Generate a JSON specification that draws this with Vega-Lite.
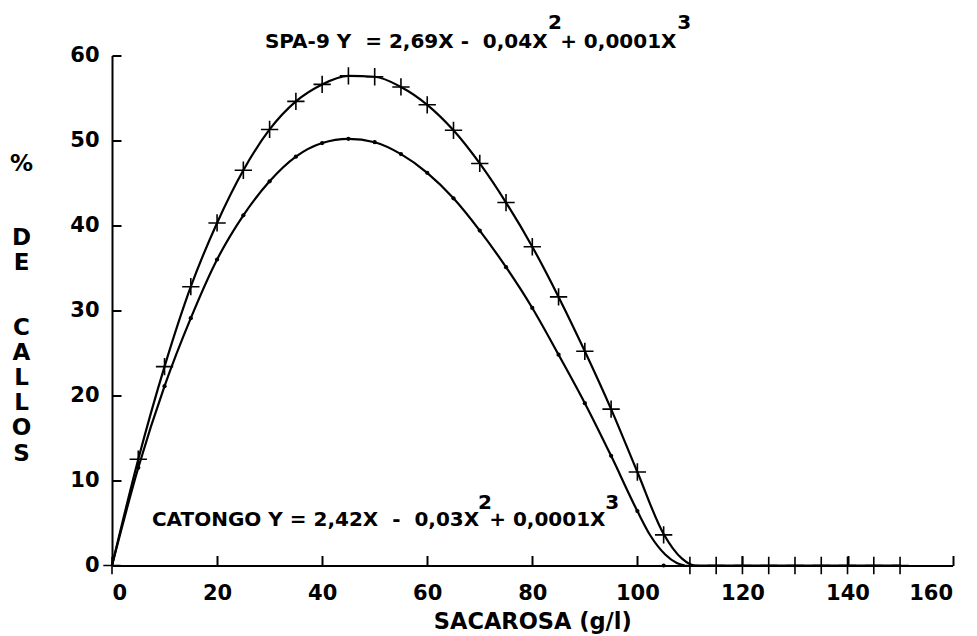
{
  "$schema": "https://vega.github.io/schema/vega-lite/v6.json",
  "width": 840.6,
  "height": 510,
  "autosize": "none",
  "padding": {"left": 112, "top": 55.5, "right": 24.4, "bottom": 70.5},
  "background": "white",
  "config": {
    "view": {"stroke": null},
    "font": "DejaVu Sans",
    "axis": {
      "domainColor": "black",
      "domainWidth": 2,
      "tickColor": "black",
      "tickWidth": 2,
      "labelColor": "black",
      "labelFont": "DejaVu Sans",
      "labelFontSize": 21,
      "labelFontWeight": "bold",
      "titleColor": "black",
      "titleFont": "DejaVu Sans",
      "titleFontWeight": "bold",
      "grid": false
    }
  },
  "resolve": {"axis": {"x": "independent", "y": "independent"}},
  "datasets": {
    "obs": [
      {"series": "SPA-9", "x": 0, "y": 0},
      {"series": "SPA-9", "x": 5, "y": 12.5},
      {"series": "SPA-9", "x": 10, "y": 23.4},
      {"series": "SPA-9", "x": 15, "y": 32.8},
      {"series": "SPA-9", "x": 20, "y": 40.3},
      {"series": "SPA-9", "x": 25, "y": 46.5},
      {"series": "SPA-9", "x": 30, "y": 51.3},
      {"series": "SPA-9", "x": 35, "y": 54.6},
      {"series": "SPA-9", "x": 40, "y": 56.6},
      {"series": "SPA-9", "x": 45, "y": 57.6},
      {"series": "SPA-9", "x": 50, "y": 57.5},
      {"series": "SPA-9", "x": 55, "y": 56.3},
      {"series": "SPA-9", "x": 60, "y": 54.2},
      {"series": "SPA-9", "x": 65, "y": 51.2},
      {"series": "SPA-9", "x": 70, "y": 47.3},
      {"series": "SPA-9", "x": 75, "y": 42.7},
      {"series": "SPA-9", "x": 80, "y": 37.5},
      {"series": "SPA-9", "x": 85, "y": 31.6},
      {"series": "SPA-9", "x": 90, "y": 25.2},
      {"series": "SPA-9", "x": 95, "y": 18.4},
      {"series": "SPA-9", "x": 100, "y": 11.0},
      {"series": "SPA-9", "x": 105, "y": 3.6},
      {"series": "SPA-9", "x": 110, "y": 0},
      {"series": "SPA-9", "x": 115, "y": 0},
      {"series": "SPA-9", "x": 120, "y": 0},
      {"series": "SPA-9", "x": 125, "y": 0},
      {"series": "SPA-9", "x": 130, "y": 0},
      {"series": "SPA-9", "x": 135, "y": 0},
      {"series": "SPA-9", "x": 140, "y": 0},
      {"series": "SPA-9", "x": 145, "y": 0},
      {"series": "SPA-9", "x": 150, "y": 0},
      {"series": "CATONGO", "x": 5, "y": 11.5},
      {"series": "CATONGO", "x": 10, "y": 21.1},
      {"series": "CATONGO", "x": 15, "y": 29.1},
      {"series": "CATONGO", "x": 20, "y": 36.0},
      {"series": "CATONGO", "x": 25, "y": 41.2},
      {"series": "CATONGO", "x": 30, "y": 45.2},
      {"series": "CATONGO", "x": 35, "y": 48.1},
      {"series": "CATONGO", "x": 40, "y": 49.7},
      {"series": "CATONGO", "x": 45, "y": 50.2},
      {"series": "CATONGO", "x": 50, "y": 49.8},
      {"series": "CATONGO", "x": 55, "y": 48.4},
      {"series": "CATONGO", "x": 60, "y": 46.2},
      {"series": "CATONGO", "x": 65, "y": 43.2},
      {"series": "CATONGO", "x": 70, "y": 39.4},
      {"series": "CATONGO", "x": 75, "y": 35.1},
      {"series": "CATONGO", "x": 80, "y": 30.3},
      {"series": "CATONGO", "x": 85, "y": 24.8},
      {"series": "CATONGO", "x": 90, "y": 19.1},
      {"series": "CATONGO", "x": 95, "y": 12.9},
      {"series": "CATONGO", "x": 100, "y": 6.4},
      {"series": "CATONGO", "x": 105, "y": 0}
    ],
    "fit": [
      {"series": "SPA-9", "x": 0, "y": 0},
      {"series": "SPA-9", "x": 5, "y": 12.5},
      {"series": "SPA-9", "x": 10, "y": 23.4},
      {"series": "SPA-9", "x": 15, "y": 32.8},
      {"series": "SPA-9", "x": 20, "y": 40.3},
      {"series": "SPA-9", "x": 25, "y": 46.5},
      {"series": "SPA-9", "x": 30, "y": 51.3},
      {"series": "SPA-9", "x": 35, "y": 54.6},
      {"series": "SPA-9", "x": 40, "y": 56.6},
      {"series": "SPA-9", "x": 45, "y": 57.6},
      {"series": "SPA-9", "x": 50, "y": 57.5},
      {"series": "SPA-9", "x": 55, "y": 56.3},
      {"series": "SPA-9", "x": 60, "y": 54.2},
      {"series": "SPA-9", "x": 65, "y": 51.2},
      {"series": "SPA-9", "x": 70, "y": 47.3},
      {"series": "SPA-9", "x": 75, "y": 42.7},
      {"series": "SPA-9", "x": 80, "y": 37.5},
      {"series": "SPA-9", "x": 85, "y": 31.6},
      {"series": "SPA-9", "x": 90, "y": 25.2},
      {"series": "SPA-9", "x": 95, "y": 18.4},
      {"series": "SPA-9", "x": 100, "y": 11.0},
      {"series": "SPA-9", "x": 105, "y": 3.7},
      {"series": "SPA-9", "x": 108.5, "y": 0.8},
      {"series": "SPA-9", "x": 111, "y": 0},
      {"series": "SPA-9", "x": 150, "y": 0},
      {"series": "CATONGO", "x": 0, "y": 0},
      {"series": "CATONGO", "x": 5, "y": 11.5},
      {"series": "CATONGO", "x": 10, "y": 21.1},
      {"series": "CATONGO", "x": 15, "y": 29.1},
      {"series": "CATONGO", "x": 20, "y": 36.0},
      {"series": "CATONGO", "x": 25, "y": 41.2},
      {"series": "CATONGO", "x": 30, "y": 45.2},
      {"series": "CATONGO", "x": 35, "y": 48.1},
      {"series": "CATONGO", "x": 40, "y": 49.7},
      {"series": "CATONGO", "x": 45, "y": 50.2},
      {"series": "CATONGO", "x": 50, "y": 49.8},
      {"series": "CATONGO", "x": 55, "y": 48.4},
      {"series": "CATONGO", "x": 60, "y": 46.2},
      {"series": "CATONGO", "x": 65, "y": 43.2},
      {"series": "CATONGO", "x": 70, "y": 39.4},
      {"series": "CATONGO", "x": 75, "y": 35.1},
      {"series": "CATONGO", "x": 80, "y": 30.3},
      {"series": "CATONGO", "x": 85, "y": 24.8},
      {"series": "CATONGO", "x": 90, "y": 19.1},
      {"series": "CATONGO", "x": 95, "y": 12.9},
      {"series": "CATONGO", "x": 100, "y": 6.4},
      {"series": "CATONGO", "x": 102.5, "y": 3.5},
      {"series": "CATONGO", "x": 105.3, "y": 1.3},
      {"series": "CATONGO", "x": 107.5, "y": 0.3},
      {"series": "CATONGO", "x": 109, "y": 0}
    ]
  },
  "layer": [
    {
      "data": {"name": "fit"},
      "mark": {"type": "line", "color": "black", "strokeWidth": 2.2, "interpolate": "monotone"},
      "encoding": {
        "x": {
          "field": "x", "type": "quantitative",
          "scale": {"domain": [0, 160], "nice": false, "zero": false},
          "axis": {
            "values": [0, 20, 40, 60, 80, 100, 120, 140, 160],
            "ticks": false,
            "labelPadding": 28,
            "labelBaseline": "middle",
            "title": "SACAROSA (g/l)",
            "titleFontSize": 22.5,
            "titlePadding": 7
          }
        },
        "y": {
          "field": "y", "type": "quantitative",
          "scale": {"domain": [0, 60], "nice": false},
          "axis": {
            "values": [0, 10, 20, 30, 40, 50, 60],
            "ticks": false,
            "labelPadding": 13,
            "title": ["D", "E"],
            "titleFontSize": 23,
            "titleAngle": 0,
            "titleAlign": "center",
            "titleBaseline": "middle",
            "titleLineHeight": 25,
            "titleX": -91,
            "titleY": 181.5
          }
        },
        "detail": {"field": "series"}
      }
    },
    {
      "data": {"name": "fit"},
      "mark": {"type": "line", "strokeOpacity": 0},
      "encoding": {
        "x": {
          "field": "x", "type": "quantitative",
          "axis": {
            "orient": "top",
            "offset": -510,
            "values": [20, 40, 60, 80, 100, 120, 140, 160],
            "domain": false,
            "labels": false,
            "tickSize": 10,
            "title": "%",
            "titleFontSize": 23,
            "titleAngle": 0,
            "titleAlign": "center",
            "titleBaseline": "middle",
            "titleX": -91,
            "titleY": -402.5
          }
        },
        "y": {
          "field": "y", "type": "quantitative",
          "axis": {
            "orient": "right",
            "offset": -840.6,
            "values": [10, 20, 30, 40, 50, 60],
            "domain": false,
            "labels": false,
            "tickSize": 9,
            "title": ["C", "A", "L", "L", "O", "S"],
            "titleFontSize": 23,
            "titleAngle": 0,
            "titleAlign": "center",
            "titleBaseline": "middle",
            "titleLineHeight": 25.2,
            "titleX": -91,
            "titleY": 271.5
          }
        },
        "detail": {"field": "series"}
      }
    },
    {
      "data": {"name": "obs"},
      "transform": [{"filter": "datum.series === 'SPA-9'"}],
      "mark": {"type": "point", "shape": "M-1,0L1,0M0,-1L0,1", "size": 300, "filled": false, "stroke": "black", "strokeWidth": 1.6, "opacity": 1},
      "encoding": {
        "x": {"field": "x", "type": "quantitative", "axis": null},
        "y": {"field": "y", "type": "quantitative", "axis": null}
      }
    },
    {
      "data": {"name": "obs"},
      "transform": [{"filter": "datum.series === 'CATONGO'"}],
      "mark": {"type": "point", "shape": "circle", "size": 18, "filled": true, "color": "black", "opacity": 1},
      "encoding": {
        "x": {"field": "x", "type": "quantitative", "axis": null},
        "y": {"field": "y", "type": "quantitative", "axis": null}
      }
    },
    {
      "data": {"values": [{"label": "SPA-9 Y\u00a0 = 2,69X -\u00a0 0,04X"}]},
      "mark": {"type": "text", "font": "DejaVu Sans", "fontSize": 20, "fontWeight": "bold", "align": "left", "baseline": "middle", "color": "black"},
      "encoding": {"text": {"field": "label"}, "x": {"datum": 29.1, "axis": null}, "y": {"datum": 61.6, "axis": null}}
    },
    {
      "data": {"values": [{"label": "+ 0,0001X"}]},
      "mark": {"type": "text", "font": "DejaVu Sans", "fontSize": 20, "fontWeight": "bold", "align": "left", "baseline": "middle", "color": "black"},
      "encoding": {"text": {"field": "label"}, "x": {"datum": 85.3, "axis": null}, "y": {"datum": 61.6, "axis": null}}
    },
    {
      "data": {"values": [{"label": "2"}]},
      "mark": {"type": "text", "font": "DejaVu Sans", "fontSize": 20, "fontWeight": "bold", "align": "center", "baseline": "middle", "color": "black"},
      "encoding": {"text": {"field": "label"}, "x": {"datum": 84.3, "axis": null}, "y": {"datum": 63.8, "axis": null}}
    },
    {
      "data": {"values": [{"label": "3"}]},
      "mark": {"type": "text", "font": "DejaVu Sans", "fontSize": 20, "fontWeight": "bold", "align": "center", "baseline": "middle", "color": "black"},
      "encoding": {"text": {"field": "label"}, "x": {"datum": 108.9, "axis": null}, "y": {"datum": 63.8, "axis": null}}
    },
    {
      "data": {"values": [{"label": "CATONGO Y = 2,42X\u00a0 -\u00a0 0,03X"}]},
      "mark": {"type": "text", "font": "DejaVu Sans", "fontSize": 20, "fontWeight": "bold", "align": "left", "baseline": "middle", "color": "black"},
      "encoding": {"text": {"field": "label"}, "x": {"datum": 7.6, "axis": null}, "y": {"datum": 5.3, "axis": null}}
    },
    {
      "data": {"values": [{"label": "+ 0,0001X"}]},
      "mark": {"type": "text", "font": "DejaVu Sans", "fontSize": 20, "fontWeight": "bold", "align": "left", "baseline": "middle", "color": "black"},
      "encoding": {"text": {"field": "label"}, "x": {"datum": 71.8, "axis": null}, "y": {"datum": 5.3, "axis": null}}
    },
    {
      "data": {"values": [{"label": "2"}]},
      "mark": {"type": "text", "font": "DejaVu Sans", "fontSize": 20, "fontWeight": "bold", "align": "center", "baseline": "middle", "color": "black"},
      "encoding": {"text": {"field": "label"}, "x": {"datum": 71.0, "axis": null}, "y": {"datum": 7.4, "axis": null}}
    },
    {
      "data": {"values": [{"label": "3"}]},
      "mark": {"type": "text", "font": "DejaVu Sans", "fontSize": 20, "fontWeight": "bold", "align": "center", "baseline": "middle", "color": "black"},
      "encoding": {"text": {"field": "label"}, "x": {"datum": 95.2, "axis": null}, "y": {"datum": 7.4, "axis": null}}
    }
  ]
}
